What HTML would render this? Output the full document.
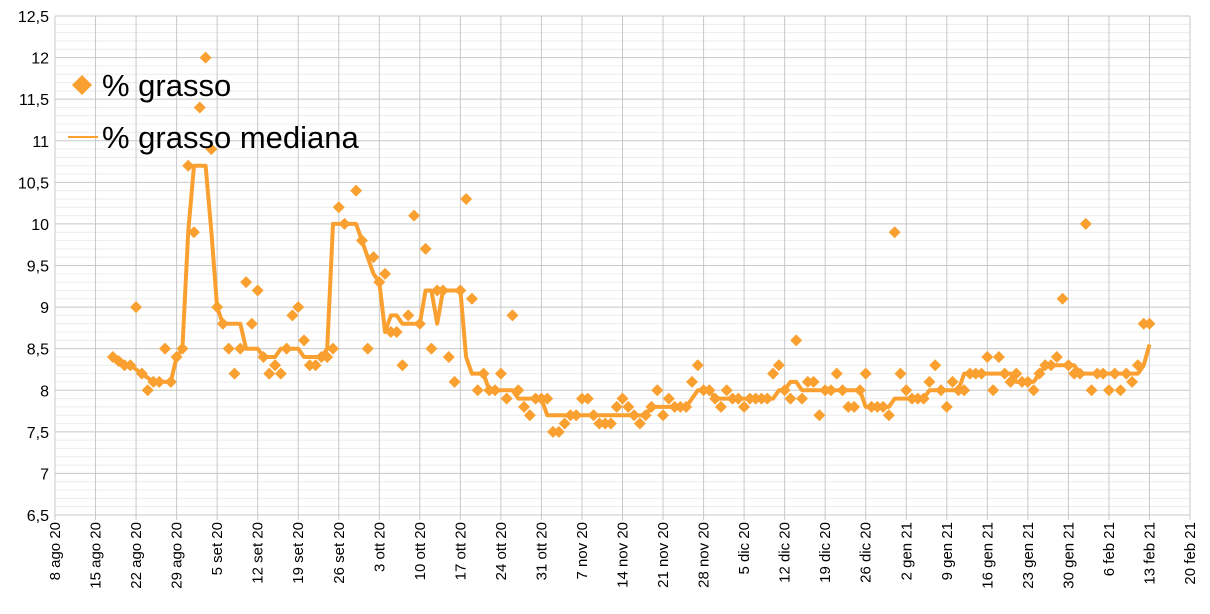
<!DOCTYPE html>
<html><head><meta charset="utf-8"><style>
html,body{margin:0;padding:0;background:#fff;}
svg{display:block;font-family:"Liberation Sans",sans-serif;}
</style></head><body>
<svg id="chart" width="1210" height="614"></svg>
<script>
const startDay = 10;
const fatValues = [8.4,8.35,8.3,8.3,9.0,8.2,8.0,8.1,8.1,8.5,8.1,8.4,8.5,10.7,9.9,11.4,12.0,10.9,9.0,8.8,
8.5,8.2,8.5,9.3,8.8,9.2,8.4,8.2,8.3,8.2,8.5,8.9,9.0,8.6,8.3,8.3,8.4,8.4,8.5,10.2,
10.0,null,10.4,9.8,8.5,9.6,9.3,9.4,8.7,8.7,8.3,8.9,10.1,8.8,9.7,8.5,9.2,9.2,8.4,8.1,
9.2,10.3,9.1,8.0,8.2,8.0,8.0,8.2,7.9,8.9,8.0,7.8,7.7,7.9,7.9,7.9,7.5,7.5,7.6,7.7,
7.7,7.9,7.9,7.7,7.6,7.6,7.6,7.8,7.9,7.8,7.7,7.6,7.7,7.8,8.0,7.7,7.9,7.8,7.8,7.8,
8.1,8.3,8.0,8.0,7.9,7.8,8.0,7.9,7.9,7.8,7.9,7.9,7.9,7.9,8.2,8.3,8.0,7.9,8.6,7.9,
8.1,8.1,7.7,8.0,8.0,8.2,8.0,7.8,7.8,8.0,8.2,7.8,7.8,7.8,7.7,9.9,8.2,8.0,7.9,7.9,
7.9,8.1,8.3,8.0,7.8,8.1,8.0,8.0,8.2,8.2,8.2,8.4,8.0,8.4,8.2,8.1,8.2,8.1,8.1,8.0,
8.2,8.3,8.3,8.4,9.1,8.3,8.2,8.2,10.0,8.0,8.2,8.2,8.0,8.2,8.0,8.2,8.1,8.3,8.8,8.8];
const medianValues = [8.4,8.35,8.3,8.3,8.25,8.2,8.15,8.1,8.1,8.1,8.1,8.4,8.5,9.9,10.7,10.7,10.7,9.9,9.0,8.8,
8.8,8.8,8.8,8.5,8.5,8.5,8.4,8.4,8.4,8.5,8.5,8.5,8.5,8.4,8.4,8.4,8.4,8.5,10.0,10.0,
10.0,10.0,10.0,9.8,9.6,9.4,9.3,8.7,8.9,8.9,8.8,8.8,8.8,8.8,9.2,9.2,8.8,9.2,9.2,9.2,
9.2,8.4,8.2,8.2,8.2,8.0,8.0,8.0,8.0,8.0,7.9,7.9,7.9,7.9,7.9,7.7,7.7,7.7,7.7,7.7,
7.7,7.7,7.7,7.7,7.7,7.7,7.7,7.7,7.7,7.7,7.7,7.7,7.7,7.8,7.8,7.8,7.8,7.8,7.8,7.8,
7.9,8.0,8.0,8.0,7.9,7.9,7.9,7.9,7.9,7.9,7.9,7.9,7.9,7.9,7.9,8.0,8.0,8.1,8.1,8.0,
8.0,8.0,8.0,8.0,8.0,8.0,8.0,8.0,8.0,8.0,7.8,7.8,7.8,7.8,7.8,7.9,7.9,7.9,7.9,7.9,
7.9,8.0,8.0,8.0,8.0,8.0,8.0,8.2,8.2,8.2,8.2,8.2,8.2,8.2,8.2,8.2,8.1,8.1,8.1,8.1,
8.2,8.3,8.3,8.3,8.3,8.3,8.3,8.2,8.2,8.2,8.2,8.2,8.2,8.2,8.2,8.2,8.2,8.2,8.3,8.55];
const xTickLabels = ["8 ago 20","15 ago 20","22 ago 20","29 ago 20","5 set 20","12 set 20","19 set 20","26 set 20","3 ott 20","10 ott 20","17 ott 20","24 ott 20","31 ott 20","7 nov 20","14 nov 20","21 nov 20","28 nov 20","5 dic 20","12 dic 20","19 dic 20","26 dic 20","2 gen 21","9 gen 21","16 gen 21","23 gen 21","30 gen 21","6 feb 21","13 feb 21","20 feb 21"];
const yTickLabels = ["6,5","7","7,5","8","8,5","9","9,5","10","10,5","11","11,5","12","12,5"];

const L=55,R=1190,T=16,B=515,yMin=6.5,yMax=12.5,totalDays=196;
const C="#f9a031";
const svg=document.getElementById('chart');
const NS="http://www.w3.org/2000/svg";
function xS(d){return L+(R-L)*d/totalDays;}
function yS(v){return B-(B-T)*(v-yMin)/(yMax-yMin);}
function mk(tag,attrs,parent){const e=document.createElementNS(NS,tag);for(const k in attrs)e.setAttribute(k,attrs[k]);(parent||svg).appendChild(e);return e;}

const grid=mk('g',{});


for(let i=0;i<=60;i++){const v=yMin+i*0.1;if(i%5===0)continue;
 mk('line',{x1:L,x2:R,y1:yS(v),y2:yS(v),stroke:'#ececec','stroke-width':1},grid);}
for(let i=0;i<yTickLabels.length;i++){const y=yS(yMin+i*0.5);
 mk('line',{x1:L,x2:R,y1:y,y2:y,stroke:'#c8c8c8','stroke-width':1},grid);
 const t=mk('text',{x:L-6,y:y+6,'text-anchor':'end','font-size':16,fill:'#000'});
 
 
 t.textContent=yTickLabels[i];}
for(let i=0;i<xTickLabels.length;i++){const x=xS(i*7);
 mk('line',{x1:x,x2:x,y1:T,y2:B+5,stroke:'#c8c8c8','stroke-width':1},grid);
 const t=mk('text',{x:0,y:0,'text-anchor':'end','font-size':15,fill:'#000',transform:`translate(${x+5},${B+7}) rotate(-90)`});
 
 
 t.textContent=xTickLabels[i];}

let pts=[];
for(let i=0;i<medianValues.length;i++){if(medianValues[i]!=null)pts.push(xS(startDay+i).toFixed(1)+','+yS(medianValues[i]).toFixed(1));}
const ml=mk('polyline',{points:pts.join(' '),fill:'none',stroke:C,'stroke-width':4,'stroke-linejoin':'round'});



const pg=mk('g',{fill:C});


for(let i=0;i<fatValues.length;i++){if(fatValues[i]==null)continue;
 const x=xS(startDay+i),y=yS(fatValues[i]),s=6;
 const p=mk('path',{d:`M${x},${y-s}L${x+s},${y}L${x},${y+s}L${x-s},${y}Z`},pg);
 
 }

const lg=mk('g',{});


mk('path',{d:'M82,75L92,85L82,95L72,85Z',fill:C},lg);
const t1=mk('text',{x:102,y:96,'font-size':31,fill:'#000'},lg);t1.textContent='% grasso';


mk('line',{x1:68,x2:98,y1:137,y2:137,stroke:C,'stroke-width':2},lg);
const t2=mk('text',{x:102,y:148,'font-size':31,fill:'#000'},lg);t2.textContent='% grasso mediana';


</script>
</body></html>
